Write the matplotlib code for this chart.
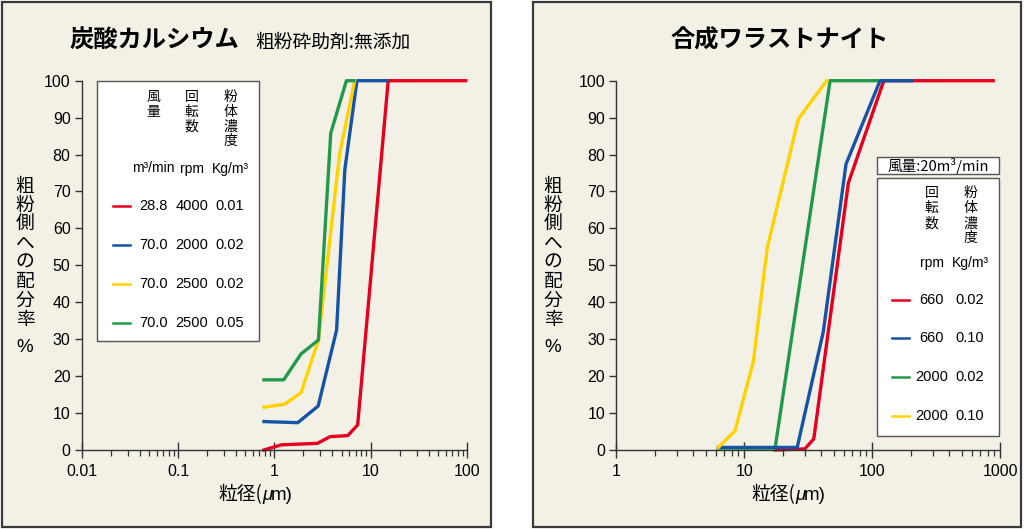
import matplotlib
matplotlib.use("Agg")
import matplotlib.pyplot as plt
from matplotlib import font_manager as fm
from matplotlib.patches import Rectangle
from matplotlib.lines import Line2D
from matplotlib.ticker import FixedLocator, FixedFormatter, LogLocator, NullFormatter

# ---------------- data ----------------
# 炭酸カルシウム (left)
calc_red_x = [0.78, 1.18, 2.8, 3.78, 5.78, 7.33, 15.2, 97]
calc_red_y = [0, 1.4, 1.8, 3.6, 3.9, 6.8, 100, 100]
calc_blue_x = [0.78, 1.75, 2.85, 4.43, 5.39, 7.2, 14.7]
calc_blue_y = [7.7, 7.4, 11.9, 32.5, 75.9, 100, 100]
calc_yellow_x = [0.78, 1.28, 1.89, 2.87, 4.75, 6.82]
calc_yellow_y = [11.6, 12.4, 15.5, 29.8, 80, 100]
calc_green_x = [0.78, 1.25, 1.89, 2.87, 3.85, 5.6, 6.66]
calc_green_y = [19, 19, 26, 29.8, 85.8, 100, 100]
calc_airflow = ["28.8", "70.0", "70.0", "70.0"]
calc_rpm = ["4000", "2000", "2500", "2500"]
calc_conc = ["0.01", "0.02", "0.02", "0.05"]

# 合成ワラストナイト (right)
wol_red_x = [17.4, 29.7, 34.9, 65, 123, 880]
wol_red_y = [0, 0.3, 3, 72.3, 100, 100]
wol_blue_x = [6.27, 25.9, 41.4, 62.3, 115, 203]
wol_blue_y = [0.7, 0.7, 32, 77.4, 100, 100]
wol_green_x = [6.27, 17.4, 46.8, 115]
wol_green_y = [0.5, 0.5, 100, 100]
wol_yellow_x = [6.27, 8.46, 11.76, 15.1, 26.4, 44]
wol_yellow_y = [0.7, 5.2, 23.9, 54.7, 89.6, 100]
wol_rpm = ["660", "660", "2000", "2000"]
wol_conc = ["0.02", "0.10", "0.02", "0.10"]

yticks = [0, 10, 20, 30, 40, 50, 60, 70, 80, 90, 100]
left_xticks = [0.01, 0.1, 1, 10, 100]
left_xlabels = ["0.01", "0.1", "1", "10", "100"]
right_xticks = [1, 10, 100, 1000]
right_xlabels = ["1", "10", "100", "1000"]

# ---------------- style ----------------
RED = "#e60020"
BLUE = "#1553a5"
YELLOW = "#ffd200"
GREEN = "#22994a"
CREAM = "#f3f0e6"
DARK = "#333333"

names = {f.name for f in fm.fontManager.ttflist}
CJK = "Noto Sans CJK JP"
NUM = "Liberation Sans" if "Liberation Sans" in names else "DejaVu Sans"
NARROW = "Liberation Sans Narrow" if "Liberation Sans Narrow" in names else NUM
plt.rcParams["font.family"] = [CJK, "DejaVu Sans"]

W, H = 1024, 529
fig = plt.figure(figsize=(W / 100, H / 100), dpi=100)
fig.patch.set_facecolor("white")

# background panels
bg = fig.add_axes([0, 0, 1, 1], zorder=-5)
bg.set_xlim(0, W)
bg.set_ylim(H, 0)
bg.axis("off")
for (x0, x1) in [(1.5, 491), (533, 1021)]:
    bg.add_patch(Rectangle((x0, 1.5), x1 - x0, 525, facecolor=CREAM,
                           edgecolor="#3a3a3a", lw=1.6))


def make_axes(left_px, right_px, xlim, ticks, labels):
    ax = fig.add_axes([left_px / W, 1 - 450 / H, (right_px - left_px) / W, (450 - 80.7) / H])
    ax.set_facecolor("none")
    ax.set_xscale("log")
    ax.set_xlim(*xlim)
    ax.set_ylim(0, 100)
    for s in ["top", "right"]:
        ax.spines[s].set_visible(False)
    for s in ["left", "bottom"]:
        ax.spines[s].set_color(DARK)
        ax.spines[s].set_linewidth(1.0)
    ax.xaxis.set_major_locator(FixedLocator(ticks))
    ax.xaxis.set_major_formatter(FixedFormatter(labels))
    ax.xaxis.set_minor_locator(LogLocator(base=10, subs=range(2, 10), numticks=20))
    ax.xaxis.set_minor_formatter(NullFormatter())
    ax.set_yticks(yticks)
    ax.set_yticklabels([str(v) for v in yticks])
    ax.tick_params(axis="y", direction="out", length=5, width=1, color=DARK,
                   labelsize=11.5, pad=3)
    ax.tick_params(axis="x", which="major", direction="inout", length=12, width=1,
                   color=DARK, labelsize=11.5, pad=4)
    ax.tick_params(axis="x", which="minor", direction="out", length=4, width=0.9,
                   color=DARK)
    for lab in ax.get_xticklabels() + ax.get_yticklabels():
        lab.set_fontfamily(NUM)
    return ax


ax1 = make_axes(81.7, 467, (0.01, 100), left_xticks, left_xlabels)
ax2 = make_axes(616.3, 1000.3, (1, 1000), right_xticks, right_xlabels)

LW = 2.4
ax1.plot(calc_red_x, calc_red_y, color=RED, lw=LW, zorder=2, clip_on=False)
ax1.plot(calc_blue_x, calc_blue_y, color=BLUE, lw=LW, zorder=3, clip_on=False)
ax1.plot(calc_yellow_x, calc_yellow_y, color=YELLOW, lw=LW, zorder=4, clip_on=False)
ax1.plot(calc_green_x, calc_green_y, color=GREEN, lw=LW, zorder=5, clip_on=False)

ax2.plot(wol_red_x, wol_red_y, color=RED, lw=LW, zorder=2, clip_on=False)
ax2.plot(wol_green_x, wol_green_y, color=GREEN, lw=LW, zorder=3, clip_on=False)
ax2.plot(wol_blue_x, wol_blue_y, color=BLUE, lw=LW, zorder=4, clip_on=False)
ax2.plot(wol_yellow_x, wol_yellow_y, color=YELLOW, lw=LW, zorder=5, clip_on=False)

# overlay for titles, labels and legend tables (pixel coordinates)
ov = fig.add_axes([0, 0, 1, 1], zorder=10)
ov.set_facecolor("none")
ov.set_xlim(0, W)
ov.set_ylim(H, 0)
ov.axis("off")

# titles
ov.text(70, 41, "炭酸カルシウム", fontsize=17.5, fontweight="bold", ha="left", va="center")
ov.text(255, 42, "粗粉砕助剤:無添加", fontsize=13.5, ha="left", va="center")
ov.text(780, 41, "合成ワラストナイト", fontsize=17.5, fontweight="bold", ha="center", va="center")

# y labels (stacked vertically)
ylab = ["粗", "粉", "側", "へ", "の", "配", "分", "率"]
for cx in (25, 553):
    for i, ch in enumerate(ylab):
        ov.text(cx, 186.5 + 19 * i, ch, fontsize=13.5, ha="center", va="center")
    ov.text(cx, 348, "%", fontsize=13.5, ha="center", va="center", family=NUM)

# x labels
for cx in (274, 807):
    ov.text(cx - 12, 495, "粒径(", fontsize=13.5, ha="right", va="center")
    ov.text(cx - 12, 495, "μ", fontsize=13.5, ha="left", va="center", style="italic", family=NUM)
    ov.text(cx - 3.5, 495, "m)", fontsize=13.5, ha="left", va="center", family=[NUM])


def vstack(x, y0, chars, step=14.7, size=10):
    for i, ch in enumerate(chars):
        ov.text(x, y0 + step * i, ch, fontsize=size, ha="center", va="center")


# ---- left legend table ----
ov.add_patch(Rectangle((96.7, 80.7), 162.6, 260, facecolor="white", edgecolor="#555555", lw=1.0))
vstack(153.3, 97.3, "風量")
vstack(191.7, 97.3, "回転数")
vstack(230, 97.3, "粉体濃度")
ov.text(153.3, 168.5, "m³/min", fontsize=10, ha="center", va="center", family=NARROW)
ov.text(191.7, 168.5, "rpm", fontsize=10, ha="center", va="center", family=NARROW)
ov.text(230, 168.5, "Kg/m³", fontsize=10, ha="center", va="center", family=NARROW)
row_y = [206, 245, 284, 322.7]
for yy, col, a, r, c in zip(row_y, [RED, BLUE, YELLOW, GREEN], calc_airflow, calc_rpm, calc_conc):
    ov.add_line(Line2D([112.5, 130], [yy, yy], color=col, lw=1.8))
    ov.text(153.3, yy, a, fontsize=10.5, ha="center", va="center", family=NARROW)
    ov.text(191.7, yy, r, fontsize=10.5, ha="center", va="center", family=NARROW)
    ov.text(230, yy, c, fontsize=10.5, ha="center", va="center", family=NARROW)

# ---- right legend table ----
ov.add_patch(Rectangle((876.7, 156.7), 122.6, 16.8, facecolor="white", edgecolor="#555555", lw=1.0))
ov.text(938, 165.5, "風量:20m³/min", fontsize=10.5, ha="center", va="center")
ov.add_patch(Rectangle((876.7, 177.7), 122.6, 258, facecolor="white", edgecolor="#555555", lw=1.0))
vstack(931.7, 193.3, "回転数", step=15)
vstack(970, 193.3, "粉体濃度", step=15)
ov.text(931.7, 263.3, "rpm", fontsize=10, ha="center", va="center", family=NARROW)
ov.text(970, 263.3, "Kg/m³", fontsize=10, ha="center", va="center", family=NARROW)
row_y2 = [300, 338.3, 377.3, 416]
for yy, col, r, c in zip(row_y2, [RED, BLUE, GREEN, YELLOW], wol_rpm, wol_conc):
    ov.add_line(Line2D([891.7, 909.3], [yy, yy], color=col, lw=1.8))
    ov.text(931.7, yy, r, fontsize=10.5, ha="center", va="center", family=NARROW)
    ov.text(970, yy, c, fontsize=10.5, ha="center", va="center", family=NARROW)

fig.savefig("out.png", dpi=100, facecolor="white")
